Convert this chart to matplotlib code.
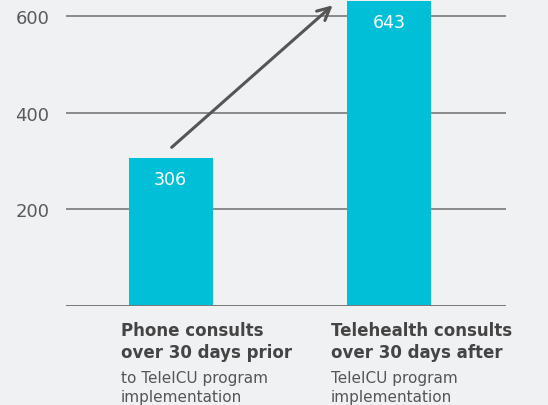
import matplotlib.pyplot as plt
from matplotlib.transforms import blended_transform_factory

# data
categories = ["Phone consults\nover 30 days prior", "Telehealth consults\nover 30 days after"]
subtitles = ["to TeleICU program\nimplementation", "TeleICU program\nimplementation"]
values = [306, 643]
yticks = [200, 400, 600]

BG = "#f0f1f3"
BAR = "#00bfd6"
GRID = "#8a8a8a"
TEXT = "#444444"
YMAX = 631

plt.rcParams["font.family"] = ["DejaVu Sans"]

fig = plt.figure(figsize=(5.48, 4.06), dpi=100, facecolor=BG)
ax = fig.add_axes([0.1204, 0.245, 0.803, 0.750])
ax.set_facecolor(BG)

x = list(range(len(values)))
ax.bar(x, values, width=0.385, color=BAR, zorder=3)
ax.set_xlim(-0.48, 1.537)
ax.set_ylim(0, YMAX)

for i, v in zip(x, values):
    ax.text(i, min(v, YMAX) - 44, str(v), ha="center", va="center",
            color="white", fontsize=12.5, zorder=4)

ax.set_yticks(yticks)
ax.set_yticklabels([str(t) for t in yticks], color="#5a5a5a", fontsize=13)
ax.tick_params(axis="y", length=0, pad=12)
ax.set_xticks([])
for t in yticks:
    ax.axhline(t, color=GRID, linewidth=1.4, zorder=1)
ax.axhline(0, color="#777777", linewidth=1.4, zorder=4)
for s in ax.spines.values():
    s.set_visible(False)

# arrow from first bar to second
ax.annotate("", xy=(0.752, 626), xytext=(-0.005, 324),
            arrowprops=dict(arrowstyle="->,head_length=0.9,head_width=0.45",
                            color="#555555", lw=2.2),
            annotation_clip=False, zorder=5)

# category labels below axis
tr = blended_transform_factory(ax.transData, fig.transFigure)
label_off = [-0.229, -0.266]
for i, off, cat, sub in zip(x, label_off, categories, subtitles):
    fig.text(i + off, 1 - 322 / 406, cat, transform=tr, ha="left", va="top",
             fontsize=12, fontweight="bold", color=TEXT, linespacing=1.3)
    fig.text(i + off, 1 - 371 / 406, sub, transform=tr, ha="left", va="top",
             fontsize=11, color="#555555", linespacing=1.3)

fig.savefig("out.png", dpi=100, facecolor=BG)
